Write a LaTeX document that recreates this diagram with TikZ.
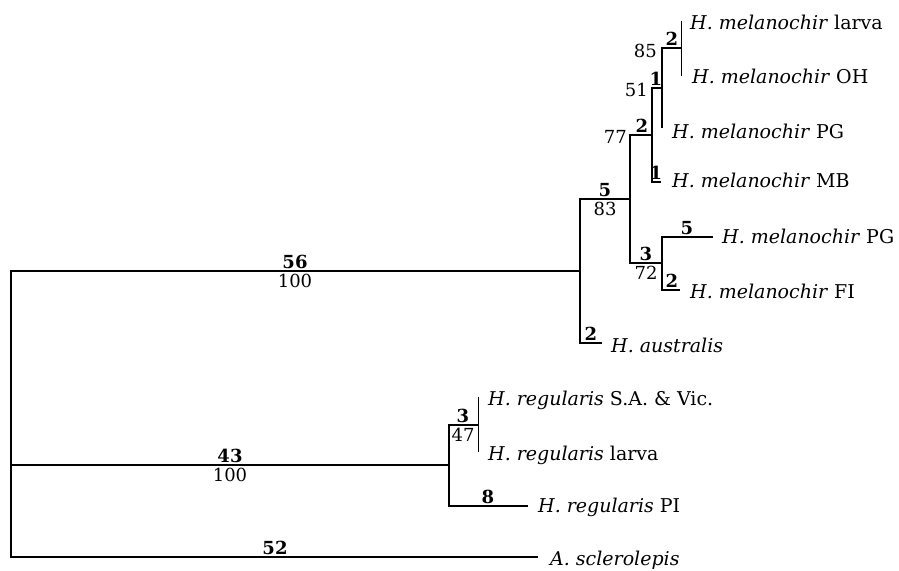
\documentclass[tikz,border=0pt]{standalone}
\usepackage{fontspec}
\setmainfont{DejaVu Serif}
\begin{document}
\begin{tikzpicture}[x=1pt,y=-1pt,
  br/.style={line width=1.2pt},
  lf/.style={line width=0.9pt},
  leaf/.style={anchor=base west,inner sep=0pt,font=\fontsize{19}{22}\selectfont},
  bs/.style={anchor=south,inner sep=1pt,font=\fontsize{18}{21}\selectfont\bfseries},
  bn/.style={anchor=north,inner sep=1.5pt,font=\fontsize{18}{21}\selectfont},
  be/.style={anchor=east,inner sep=1pt,font=\fontsize{18}{21}\selectfont}]
\useasboundingbox (0,0) rectangle (899,570);
% coordinates
\coordinate (r) at (11,465);
\coordinate (cA) at (580,271);
\coordinate (cB) at (449,465);
\coordinate (cC) at (630,199);
\coordinate (cD) at (652,135);
\coordinate (cE) at (662,263);
\coordinate (cF) at (662,88);
\coordinate (cG) at (681,48);
\coordinate (cH) at (478,425);
\coordinate (llarva) at (681,21);
\coordinate (lOH) at (681,76);
\coordinate (lPGa) at (662,128);
\coordinate (lMB) at (661,182);
\coordinate (lPGb) at (713,237);
\coordinate (lFI) at (680,290);
\coordinate (laus) at (602,343);
\coordinate (lSA) at (478,397);
\coordinate (lrl) at (478,452);
\coordinate (lPI) at (528,506);
\coordinate (lscl) at (538,557);
% branches
\draw[br] (cA) -| (r) |- (lscl);
\draw[br] (r) -- (cB);
\draw[br] (cC) -| (cA) |- (laus);
\draw[br] (cD) -| (cC) |- (cE);
\draw[br] (cF) -| (cD) |- (lMB);
\draw[br] (cG) -| (cF) |- (lPGa);
\draw[lf] (llarva) -- (lOH);
\draw[br] (lPGb) -| (cE) |- (lFI);
\draw[br] (cH) -| (cB) |- (lPI);
\draw[lf] (lSA) -- (lrl);
% branch labels
\node[bs] (n56) at (295,270) {56};
\node[bn] (n100a) at (295,272) {100};
\node[bs] (n43) at (230,464) {43};
\node[bn] (n100b) at (230,466) {100};
\node[bs] (n52) at (275,556) {52};
\node[bs] (n5a) at (605,198) {5};
\node[bn] (n83) at (605,200) {83};
\node[bs] (n2aus) at (591,342) {2};
\node[bs] (n2c) at (642,134) {2};
\node[be] (n77) at (628,137) {77};
\node[bs] (n1a) at (656,87) {1};
\node[be] (n51) at (649,90) {51};
\node[bs] (n2d) at (672,47) {2};
\node[be] (n85) at (658,51) {85};
\node[bs] (n1b) at (656,181) {1};
\node[bs] (n3a) at (646,262) {3};
\node[bn] (n72) at (646,264) {72};
\node[bs] (n5b) at (687,236) {5};
\node[bs] (n2e) at (672,289) {2};
\node[bs] (n3b) at (463,424) {3};
\node[bn] (n47) at (463,426) {47};
\node[bs] (n8) at (488,505) {8};
% leaf names
\node[leaf] (tlarva) at (690,29) {\textit{H. melanochir} larva};
\node[leaf] (tOH) at (692,83) {\textit{H. melanochir} OH};
\node[leaf] (tPGa) at (672,138) {\textit{H. melanochir} PG};
\node[leaf] (tMB) at (672,187) {\textit{H. melanochir} MB};
\node[leaf] (tPGb) at (722,243) {\textit{H. melanochir} PG};
\node[leaf] (tFI) at (690,298) {\textit{H. melanochir} FI};
\node[leaf] (taus) at (611,352) {\textit{H. australis}};
\node[leaf] (tSA) at (488,405) {\textit{H. regularis} S.A. \& Vic.};
\node[leaf] (trl) at (488,460) {\textit{H. regularis} larva};
\node[leaf] (tPI) at (538,512) {\textit{H. regularis} PI};
\node[leaf] (tscl) at (550,565) {\textit{A. sclerolepis}};
\end{tikzpicture}
\end{document}
